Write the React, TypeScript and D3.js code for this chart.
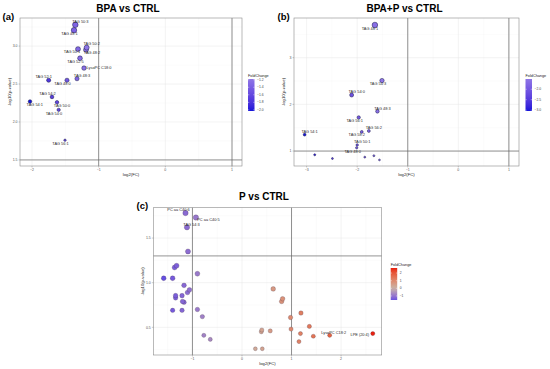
import React from 'react';
import * as d3 from 'd3';

// ---- (a) BPA vs CTRL ----
const namesA = ['TAG 50:3', 'TAG 48:1', 'TAG 50:2', 'TAG 50:1', 'TAG 48:2', 'TAG 52:5', 'LysoPC C18:0', 'TAG 52:1', 'TAG 48:0', 'TAG 48:3', 'TAG 54:2', 'TAG 54:1', 'TAG 50:0', 'TAG 54:0', 'TAG 56:1'];
const log2fcA = [-1.35, -1.37, -1.18, -1.31, -1.19, -1.28, -1.22, -1.75, -1.475, -1.325, -1.70, -2.03, -1.625, -1.60, -1.505];
const logpA = [3.28, 3.21, 2.98, 2.96, 2.95, 2.84, 2.71, 2.55, 2.55, 2.57, 2.33, 2.27, 2.26, 2.16, 1.76];

// ---- (b) BPA+P vs CTRL ----
const namesB = ['TAG 48:1', 'TAG 54:3', 'TAG 54:0', 'TAG 48:3', 'TAG 56:1', 'TAG 56:2', 'TAG 58:2', 'TAG 54:1', 'TAG 50:1', 'TAG 48:0', '', '', '', '', ''];
const log2fcB = [-1.65, -1.51, -2.11, -1.60, -1.97, -1.77, -1.91, -3.04, -2.00, -2.01, -2.84, -2.49, -1.85, -1.67, -1.56];
const logpB = [3.70, 2.51, 2.20, 1.85, 1.72, 1.43, 1.41, 1.35, 1.13, 1.07, 0.92, 0.84, 0.87, 0.90, 0.81];

// ---- (c) P vs CTRL ----
const namesC = ['PC aa C40:6', 'PC aa C40:5', 'TAG 54:3', '', '', '', '', '', '', '', '', '', '', '', '', '', '', '', '', '', '', '', '',
  '', '', '', '', '', '', '', '', '', '', '', 'LysoPC C18:2', 'LPE (20:4)', '', '', '', ''];
const log2fcC = [-1.14, -0.93, -1.11, -1.09, -1.36, -1.32, -0.90, -1.58, -1.40, -1.17, -1.06, -1.10, -1.34, -1.34, -1.21, -1.20, -1.17, -1.40, -1.21, -0.90, -0.80, -0.77, -0.64,
  0.63, 0.82, 0.80, 1.19, 0.98, 0.99, 1.36, 0.40, 0.39, 0.57, 1.18, 1.77, 2.64, 1.44, 1.15, 0.27, 0.41, 0.58];
const logpC = [1.78, 1.73, 1.62, 1.35, 1.17, 1.19, 1.10, 1.05, 1.05, 0.97, 0.92, 0.89, 0.855, 0.83, 0.855, 0.79, 0.78, 0.69, 0.69, 0.70, 0.62, 0.41, 0.365,
  0.93, 0.82, 0.79, 0.66, 0.61, 0.48, 0.51, 0.47, 0.45, 0.46, 0.43, 0.41, 0.43, 0.40, 0.34, 0.26, 0.26, 0.28];

// label nudges (px) relative to the point
const nudgeA: Record<string, [number, number]> = {
  'TAG 50:3': [5, -3], 'TAG 48:1': [-4.5, 3.3], 'TAG 50:2': [5, -3.5], 'TAG 50:1': [-6, 3], 'TAG 48:2': [6, 2.5],
  'TAG 52:5': [-4.5, 3.3], 'LysoPC C18:0': [15, -0.8], 'TAG 52:1': [-5, -3.3], 'TAG 48:0': [-4.5, 3], 'TAG 48:3': [5, -3],
  'TAG 54:2': [-4.5, -3.6], 'TAG 54:1': [4.8, 3.3], 'TAG 50:0': [5, 3], 'TAG 54:0': [-4.7, 3.3], 'TAG 56:1': [-4.5, 3.3],
};
const nudgeB: Record<string, [number, number]> = {
  'TAG 48:1': [-5, 3.5], 'TAG 54:3': [-4, 3.5], 'TAG 54:0': [5, -3], 'TAG 48:3': [5, -3], 'TAG 56:1': [-4, 3.5],
  'TAG 56:2': [5, -3], 'TAG 58:2': [-5, 3], 'TAG 54:1': [5, -3], 'TAG 50:1': [5, -3], 'TAG 48:0': [-4, 3.5],
};
const nudgeC: Record<string, [number, number]> = {
  'PC aa C40:6': [-7, -3.5], 'PC aa C40:5': [12.5, 2], 'TAG 54:3': [4.5, -3], 'LysoPC C18:2': [4, -3], 'LPE (20:4)': [-13, 1],
};

const FONT = 'Liberation Sans, Arial, sans-serif';

type Spec = {
  tag: string; title: string; tagX: number; tagY: number; titleX: number; titleY: number;
  names: string[]; fc: number[]; lp: number[]; nudge: Record<string, [number, number]>;
  l: number; r: number; t: number; b: number;
  xDomain: [number, number]; yDomain: [number, number];
  xTicks: number[]; yTicks: number[]; xMinor: number[]; yMinor: number[];
  xFmt: (v: number) => string; yFmt: (v: number) => string;
  vlines: number[]; hline: number;
  color: (v: number) => string; colorDomain: [number, number];
  radius: (v: number) => number; stroke: string;
  legX: number; legY: number; legTicks: number[]; legFmt: (v: number) => string;
  gid: string;
};

function Volcano({ s }: { s: Spec }) {
  const x = d3.scaleLinear().domain(s.xDomain).range([s.l, s.r]);
  const y = d3.scaleLinear().domain(s.yDomain).range([s.b, s.t]);
  const legH = 32, legW = 6.5;
  const ly = d3.scaleLinear().domain(s.colorDomain).range([s.legY + legH, s.legY]);
  const stops = d3.range(0, 1.0001, 0.1).map(f => ({ off: f, c: s.color(s.colorDomain[1] - f * (s.colorDomain[1] - s.colorDomain[0])) }));
  const pts = s.names.map((n, i) => ({ n, fc: s.fc[i], lp: s.lp[i] })).sort((a, b) => a.lp - b.lp);
  return (
    <g>
      <text x={s.tagX} y={s.tagY} fontFamily={FONT} fontWeight="bold" fontSize={9.5}>{s.tag}</text>
      <text x={s.titleX} y={s.titleY} fontFamily={FONT} fontWeight="bold" fontSize={10} textAnchor="middle">{s.title}</text>
      <rect x={s.l} y={s.t} width={s.r - s.l} height={s.b - s.t} fill="#fff" />
      {s.xMinor.map(v => <line key={'xm' + v} x1={x(v)} x2={x(v)} y1={s.t} y2={s.b} stroke="#f1f1f1" strokeWidth={0.3} />)}
      {s.yMinor.map(v => <line key={'ym' + v} x1={s.l} x2={s.r} y1={y(v)} y2={y(v)} stroke="#f1f1f1" strokeWidth={0.3} />)}
      {s.xTicks.map(v => <line key={'xg' + v} x1={x(v)} x2={x(v)} y1={s.t} y2={s.b} stroke="#e4e4e4" strokeWidth={0.45} />)}
      {s.yTicks.map(v => <line key={'yg' + v} x1={s.l} x2={s.r} y1={y(v)} y2={y(v)} stroke="#e4e4e4" strokeWidth={0.45} />)}
      {s.vlines.map(v => <line key={'vl' + v} x1={x(v)} x2={x(v)} y1={s.t} y2={s.b} stroke="#666" strokeWidth={0.7} />)}
      <line x1={s.l} x2={s.r} y1={y(s.hline)} y2={y(s.hline)} stroke="#666" strokeWidth={0.7} />
      <rect x={s.l} y={s.t} width={s.r - s.l} height={s.b - s.t} fill="none" stroke="#8a8a8a" strokeWidth={0.6} />
      {s.xTicks.map(v => (
        <g key={'xt' + v}>
          <line x1={x(v)} x2={x(v)} y1={s.b} y2={s.b + 1.5} stroke="#555" strokeWidth={0.3} />
          <text x={x(v)} y={s.b + 5.2} fontFamily={FONT} fontSize={3.5} fill="#555" textAnchor="middle">{s.xFmt(v)}</text>
        </g>
      ))}
      {s.yTicks.map(v => (
        <g key={'yt' + v}>
          <line x1={s.l - 1.5} x2={s.l} y1={y(v)} y2={y(v)} stroke="#555" strokeWidth={0.3} />
          <text x={s.l - 2.5} y={y(v)} dy="0.35em" fontFamily={FONT} fontSize={3.5} fill="#555" textAnchor="end">{s.yFmt(v)}</text>
        </g>
      ))}
      <text x={(s.l + s.r) / 2} y={s.b + 9.8} fontFamily={FONT} fontSize={4.2} fill="#222" textAnchor="middle">log2(FC)</text>
      <text transform={`translate(${s.l - 9.5},${(s.t + s.b) / 2}) rotate(-90)`} fontFamily={FONT} fontSize={4.2} fill="#222" textAnchor="middle">-log10(p-value)</text>
      {pts.map((p, i) => (
        <circle key={'p' + i} cx={x(p.fc)} cy={y(p.lp)} r={s.radius(p.lp)} fill={s.color(p.fc)} stroke={s.stroke} strokeWidth={0.5} />
      ))}
      {pts.filter(p => p.n).map(p => {
        const [dx, dy] = s.nudge[p.n] || [0, -3];
        return (
          <text key={'l' + p.n} x={x(p.fc) + dx} y={y(p.lp) + dy} dy="0.35em" fontFamily={FONT} fontSize={3.9} fill="#2a2a2a" textAnchor="middle">{p.n}</text>
        );
      })}
      <defs>
        <linearGradient id={s.gid} x1="0" x2="0" y1="0" y2="1">
          {stops.map(st => <stop key={st.off} offset={st.off} stopColor={st.c} />)}
        </linearGradient>
      </defs>
      <text x={s.legX} y={s.legY - 2.2} fontFamily={FONT} fontSize={3.8} fill="#222">FoldChange</text>
      <rect x={s.legX} y={s.legY} width={legW} height={legH} fill={`url(#${s.gid})`} />
      {s.legTicks.map(v => (
        <g key={'lg' + v}>
          <line x1={s.legX} x2={s.legX + 1.3} y1={ly(v)} y2={ly(v)} stroke="#fff" strokeWidth={0.4} />
          <line x1={s.legX + legW - 1.3} x2={s.legX + legW} y1={ly(v)} y2={ly(v)} stroke="#fff" strokeWidth={0.4} />
          <text x={s.legX + legW + 2.5} y={ly(v)} dy="0.35em" fontFamily={FONT} fontSize={3.3} fill="#444">{s.legFmt(v)}</text>
        </g>
      ))}
    </g>
  );
}

const coolA = d3.scaleLinear<string>().domain([d3.min(log2fcA)!, d3.max(log2fcA)!]).range(['#1414d8', '#8f76e6']).interpolate(d3.interpolateLab);
const coolB = d3.scaleLinear<string>().domain([d3.min(log2fcB)!, d3.max(log2fcB)!]).range(['#1414d8', '#8f76e6']).interpolate(d3.interpolateLab);
const divC = d3.scaleLinear<string>().domain([-1.53, 0, 2.66]).range(['#6a52e0', '#c8b4a8', '#e81e0e']).interpolate(d3.interpolateLab);

const f1 = d3.format('.1f');
const f0 = d3.format('d');

const specA: Spec = {
  tag: '(a)', title: 'BPA vs CTRL', tagX: 2.5, tagY: 20, titleX: 128, titleY: 11.5,
  names: namesA, fc: log2fcA, lp: logpA, nudge: nudgeA,
  l: 20, r: 242, t: 18, b: 166,
  xDomain: [-2.18, 1.15], yDomain: [1.42, 3.37],
  xTicks: [-2, -1, 0, 1], yTicks: [1.5, 2.0, 2.5, 3.0], xMinor: [-1.5, -0.5, 0.5], yMinor: [1.75, 2.25, 2.75, 3.25],
  xFmt: f0, yFmt: f1, vlines: [-1, 1], hline: 1.5,
  color: coolA, colorDomain: [d3.min(log2fcA)!, d3.max(log2fcA)!],
  radius: d3.scaleSqrt().domain([1.7, 3.3]).range([1.1, 2.8]).clamp(true), stroke: '#18184a',
  legX: 248, legY: 79, legTicks: [-2.0, -1.8, -1.6, -1.4, -1.2], legFmt: f1, gid: 'gA',
};

const specB: Spec = {
  tag: '(b)', title: 'BPA+P vs CTRL', tagX: 277.5, tagY: 20, titleX: 404.5, titleY: 11.5,
  names: namesB, fc: log2fcB, lp: logpB, nudge: nudgeB,
  l: 294, r: 519, t: 18, b: 166,
  xDomain: [-3.25, 1.2], yDomain: [0.68, 3.85],
  xTicks: [-3, -2, -1, 0, 1], yTicks: [1, 2, 3], xMinor: [-2.5, -1.5, -0.5, 0.5], yMinor: [1.5, 2.5, 3.5],
  xFmt: f0, yFmt: f0, vlines: [-1, 1], hline: 1,
  color: coolB, colorDomain: [d3.min(log2fcB)!, d3.max(log2fcB)!],
  radius: d3.scaleSqrt().domain([0.8, 3.7]).range([0.9, 2.8]).clamp(true), stroke: '#18184a',
  legX: 525.5, legY: 79, legTicks: [-3.0, -2.5, -2.0], legFmt: f1, gid: 'gB',
};

const specC: Spec = {
  tag: '(c)', title: 'P vs CTRL', tagX: 136.5, tagY: 208.5, titleX: 264, titleY: 200,
  names: namesC, fc: log2fcC, lp: logpC, nudge: nudgeC,
  l: 153.3, r: 381.7, t: 207.7, b: 355,
  xDomain: [-1.79, 2.82], yDomain: [0.19, 1.84],
  xTicks: [-1, 0, 1, 2], yTicks: [0.5, 1.0, 1.5], xMinor: [-1.5, -0.5, 0.5, 1.5, 2.5], yMinor: [0.25, 0.75, 1.25, 1.75],
  xFmt: f0, yFmt: f1, vlines: [-1, 1], hline: 1.3,
  color: divC, colorDomain: [-1.53, 2.66],
  radius: d3.scaleSqrt().domain([0.2, 1.8]).range([1.9, 2.7]).clamp(true), stroke: 'rgba(60,40,60,0.45)',
  legX: 390.7, legY: 268, legTicks: [-1, 0, 1, 2], legFmt: f0, gid: 'gC',
};

export default function App() {
  return (
    <svg width={550} height={369} style={{ position: 'absolute', left: 0, top: 0, background: '#fff' }}>
      <Volcano s={specA} />
      <Volcano s={specB} />
      <Volcano s={specC} />
    </svg>
  );
}
